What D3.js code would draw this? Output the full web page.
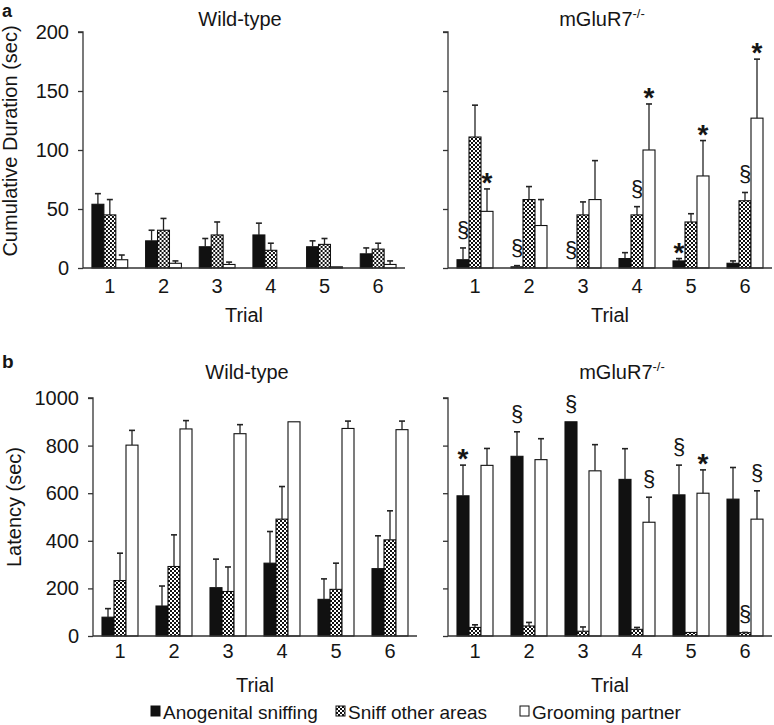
<!DOCTYPE html>
<html><head><meta charset="utf-8">
<script src="https://cdn.jsdelivr.net/npm/d3@7"></script>
<style>
body{margin:0;background:#fff}
svg{display:block}
text{font-family:"Liberation Sans",Arial,sans-serif;fill:#151515}
</style>
</head><body>
<svg id="c" width="774" height="725"></svg>
<script>
// ---------- DATA ----------
const trials = ["1","2","3","4","5","6"];
const seriesNames = ["Anogenital sniffing","Sniff other areas","Grooming partner"];

// Panel a: cumulative duration (sec), mean and SEM
const durWT_ano   = [54,23,18,28,18,12];
const durWT_anoE  = [9,9,7,10,5,5];
const durWT_sniff = [45,32,28,15,20,16];
const durWT_sniffE= [13,10,11,6,5,5];
const durWT_groom = [7,4,3,0,1,3];
const durWT_groomE= [4,2,2,0,0,3];

const durKO_ano   = [7,1,0,8,6,4];
const durKO_anoE  = [10,1,0,5,2,2];
const durKO_sniff = [111,58,45,45,39,57];
const durKO_sniffE= [27,11,11,7,7,7];
const durKO_groom = [48,36,58,100,78,127];
const durKO_groomE= [19,22,33,39,30,50];

// Panel b: latency (sec)
const latWT_ano   = [79,126,203,306,154,283];
const latWT_anoE  = [36,84,120,133,86,138];
const latWT_sniff = [233,292,187,491,196,404];
const latWT_sniffE= [115,133,103,137,110,122];
const latWT_groom = [802,870,850,900,872,867];
const latWT_groomE= [62,35,38,0,31,36];

const latKO_ano   = [589,755,900,658,593,575];
const latKO_anoE  = [129,103,0,129,125,133];
const latKO_sniff = [36,42,20,28,15,14];
const latKO_sniffE= [11,15,18,8,0,1];
const latKO_groom = [717,741,694,478,600,491];
const latKO_groomE= [71,88,110,105,98,119];

const durTicks = [0,50,100,150,200];
const latTicks = [0,200,400,600,800,1000];

// significance marks: [trial index, series index, symbol]
const durKOMarks = [[0,0,"§"],[0,2,"*"],[1,0,"§"],[2,0,"§"],[3,1,"§"],[3,2,"*"],[4,0,"*"],[4,2,"*"],[5,1,"§"],[5,2,"*"]];
const latKOMarks = [[0,0,"*"],[1,0,"§"],[2,0,"§"],[3,2,"§"],[4,0,"§"],[4,2,"*"],[5,1,"§"],[5,2,"§"]];

// ---------- DRAW ----------
const svg = d3.select("#c");
const defs = svg.append("defs");
const pat = defs.append("pattern").attr("id","chk").attr("patternUnits","userSpaceOnUse")
  .attr("width",4).attr("height",4);
pat.append("rect").attr("width",4).attr("height",4).attr("fill","#fff");
pat.append("rect").attr("x",0).attr("y",0).attr("width",2).attr("height",2).attr("fill","#111");
pat.append("rect").attr("x",2).attr("y",2).attr("width",2).attr("height",2).attr("fill","#111");

const fills = ["#111","url(#chk)","#fff"];
const axisColor = "#333";

function build(means, errs){
  return trials.map((t,i)=>({trial:t, vals: means.map((m,s)=>({s, v:m[i], e:errs[s][i]}))}));
}

const panels = [
  {data: build([durWT_ano,durWT_sniff,durWT_groom],[durWT_anoE,durWT_sniffE,durWT_groomE]),
   x0:83, x1:405, yB:268, yT:32, max:200, ticks:durTicks, labels:true,
   title:"Wild-type", tx:240, ty:26, tickY:293, trialY:322, marks:[]},
  {data: build([durKO_ano,durKO_sniff,durKO_groom],[durKO_anoE,durKO_sniffE,durKO_groomE]),
   x0:448, x1:772, yB:268, yT:32, max:200, ticks:durTicks, labels:false,
   title:"mGluR7", sup:"-/-", tx:602, ty:26, tickY:293, trialY:322, marks:durKOMarks},
  {data: build([latWT_ano,latWT_sniff,latWT_groom],[latWT_anoE,latWT_sniffE,latWT_groomE]),
   x0:93, x1:417, yB:636, yT:398, max:1000, ticks:latTicks, labels:true,
   title:"Wild-type", tx:247, ty:379, tickY:658, trialY:692, marks:[]},
  {data: build([latKO_ano,latKO_sniff,latKO_groom],[latKO_anoE,latKO_sniffE,latKO_groomE]),
   x0:448, x1:772, yB:636, yT:398, max:1000, ticks:latTicks, labels:false,
   title:"mGluR7", sup:"-/-", tx:622, ty:379, tickY:658, trialY:692, marks:latKOMarks}
];

panels.forEach(p=>{
  const g = svg.append("g");
  const x = d3.scaleBand().domain(trials).range([p.x0,p.x1]).paddingInner(1/3).paddingOuter(1/6);
  const xs = d3.scaleBand().domain([0,1,2]).range([0,x.bandwidth()]);
  const y = d3.scaleLinear().domain([0,p.max]).range([p.yB,p.yT]);

  // bars
  const grp = g.selectAll("g.t").data(p.data).join("g").attr("transform",d=>`translate(${x(d.trial)},0)`);
  grp.selectAll("rect").data(d=>d.vals).join("rect")
    .attr("x",d=>xs(d.s)).attr("width",xs.bandwidth())
    .attr("y",d=>y(d.v)).attr("height",d=>y(0)-y(d.v))
    .attr("fill",d=>fills[d.s]).attr("stroke","#111").attr("stroke-width",1.1);
  // error bars (upward)
  const eb = grp.selectAll("g.e").data(d=>d.vals.filter(v=>v.e>0)).join("g");
  eb.append("line").attr("x1",d=>xs(d.s)+xs.bandwidth()/2).attr("x2",d=>xs(d.s)+xs.bandwidth()/2)
    .attr("y1",d=>y(d.v)).attr("y2",d=>y(d.v+d.e)).attr("stroke","#222").attr("stroke-width",1.3);
  eb.append("line").attr("x1",d=>xs(d.s)+xs.bandwidth()/2-3).attr("x2",d=>xs(d.s)+xs.bandwidth()/2+3)
    .attr("y1",d=>y(d.v+d.e)).attr("y2",d=>y(d.v+d.e)).attr("stroke","#222").attr("stroke-width",1.6);

  // y axis
  const ya = d3.axisLeft(y).tickValues(p.ticks).tickSize(5).tickPadding(9)
     .tickFormat(p.labels? d3.format("d") : ()=>"");
  const yg = g.append("g").attr("transform",`translate(${p.x0},0)`).call(ya);
  yg.select(".domain").attr("stroke",axisColor).attr("stroke-width",1.3).attr("d",`M-5,${y(p.max)}H0V${y(0)}`);
  yg.selectAll(".tick line").attr("stroke",axisColor).attr("stroke-width",1.3);
  yg.selectAll(".tick text").style("font-size","20px").attr("fill","#151515")
    .style("font-family",'"Liberation Sans",Arial,sans-serif');

  // x axis
  g.append("line").attr("x1",p.x0).attr("x2",p.x1).attr("y1",y(0)).attr("y2",y(0))
    .attr("stroke",axisColor).attr("stroke-width",1.3);
  g.selectAll("text.xl").data(trials).join("text").attr("class","xl")
    .attr("x",d=>x(d)+x.bandwidth()/2).attr("y",p.tickY).attr("text-anchor","middle")
    .style("font-size","20px").text(d=>d);
  g.append("text").attr("x",(p.x0+p.x1)/2).attr("y",p.trialY).attr("text-anchor","middle")
    .style("font-size","20px").text("Trial");

  // title
  const t = g.append("text").attr("x",p.tx).attr("y",p.ty).attr("text-anchor","middle").style("font-size","20px").text(p.title);
  if(p.sup){ t.append("tspan").attr("dy",-8).style("font-size","13px").text(p.sup); }

  // significance marks
  p.marks.forEach(([ti,si,sym])=>{
    const d = p.data[ti].vals[si];
    const cx = x(trials[ti]) + xs(si) + xs.bandwidth()/2;
    const top = y(d.v + d.e);
    if(sym==="§"){
      g.append("text").attr("x",cx).attr("y",top-17+6).attr("text-anchor","middle").style("font-size","22px").text(sym);
    } else {
      g.append("text").attr("x",cx).attr("y",top-13+16).attr("text-anchor","middle").style("font-size","28px").style("font-weight","bold").text(sym);
    }
  });
});

// axis titles
svg.append("text").attr("transform","translate(17,141) rotate(-90)").attr("text-anchor","middle")
  .style("font-size","20px").text("Cumulative Duration (sec)");
svg.append("text").attr("transform","translate(21,507) rotate(-90)").attr("text-anchor","middle")
  .style("font-size","20px").text("Latency (sec)");

// panel letters
svg.append("text").attr("x",2).attr("y",17).style("font-size","18px").style("font-weight","bold").text("a");
svg.append("text").attr("x",2).attr("y",368).style("font-size","19px").style("font-weight","bold").text("b");

// legend
const legX = [151,336,520];
const lg = svg.append("g");
seriesNames.forEach((n,i)=>{
  lg.append("rect").attr("x",legX[i]).attr("y",706).attr("width",9).attr("height",10)
    .attr("fill",fills[i]).attr("stroke","#111").attr("stroke-width",1);
  lg.append("text").attr("x",legX[i]+12).attr("y",719).style("font-size","19px").text(n);
});
</script>
</body></html>
